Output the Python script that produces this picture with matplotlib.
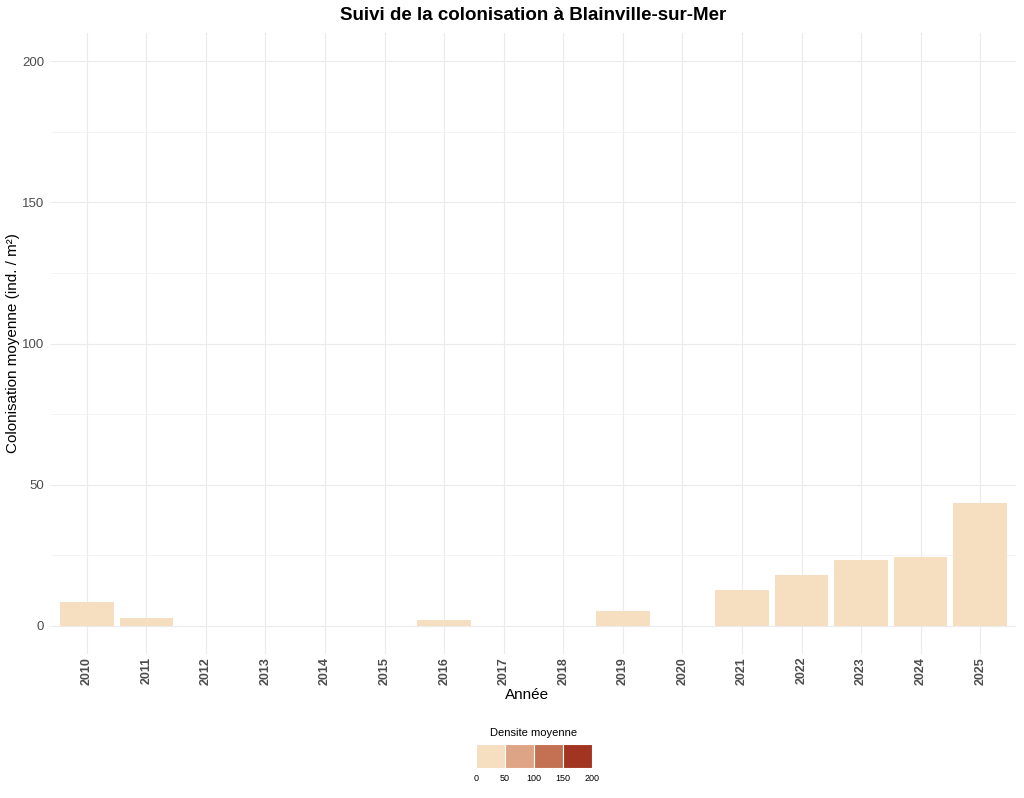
import matplotlib
matplotlib.use("Agg")
import matplotlib.pyplot as plt
from matplotlib.ticker import MultipleLocator

plt.rcParams["font.family"] = ["Liberation Sans", "DejaVu Sans"]

years = [str(y) for y in range(2010, 2026)]
values = [8.5, 2.6, 0, 0, 0, 0, 2.1, 0, 0, 5.2, 0, 12.5, 18.0, 23.4, 24.4, 43.4]
legend_breaks = [0, 50, 100, 150, 200]
legend_colors = ["#F5DFC0", "#DEA486", "#C37152", "#A23422"]
bar_color = "#F5DFC0"

W, H = 1024, 798
fig = plt.figure(figsize=(W / 100, H / 100), dpi=100)
fig.patch.set_facecolor("white")

left, right, top, bottom = 51, 1016, 33, 654
ax = fig.add_axes([left / W, 1 - bottom / H, (right - left) / W, (bottom - top) / H])
x = list(range(len(years)))
ax.bar(x, values, width=0.9, color=bar_color, zorder=2)
ax.set_xlim(-0.6, len(years) - 0.4)
ax.set_ylim(-10, 210)
ax.set_xticks(x)
ax.set_xticklabels(years, rotation=90, fontweight="bold", color="#4D4D4D", fontsize=9)
ax.yaxis.set_minor_locator(MultipleLocator(25))
ax.set_yticks([0, 50, 100, 150, 200])
ax.tick_params(axis="y", colors="#4D4D4D", labelsize=9.5, length=0, which="both", pad=5)
ax.tick_params(axis="x", length=0, pad=2)
ax.grid(True, which="major", color="#EBEBEB", linewidth=0.8, zorder=0)
ax.grid(True, which="minor", axis="y", color="#F2F2F2", linewidth=0.6, zorder=0)
for s in ax.spines.values():
    s.set_visible(False)

fig.text(527 / W, 1 - 695 / H, "Année", ha="center", va="center", fontsize=11)
fig.text(13 / W, 1 - 343 / H, "Colonisation moyenne (ind. / m²)", ha="center", va="center",
         rotation=90, fontsize=11)
fig.text(533 / W, 1 - 16 / H, "Suivi de la colonisation à Blainville-sur-Mer",
         ha="center", va="center", fontsize=13.5, fontweight="bold")

lax = fig.add_axes([476 / W, 1 - 768 / H, 116 / W, 24 / H])
for i, c in enumerate(legend_colors):
    lax.bar(legend_breaks[i], 1, width=legend_breaks[i + 1] - legend_breaks[i], align="edge",
            color=c, edgecolor="white", linewidth=0.8)
lax.set_xlim(legend_breaks[0], legend_breaks[-1])
lax.set_ylim(0, 1)
lax.set_yticks([])
lax.set_xticks(legend_breaks)
lax.set_xticklabels([str(b) for b in legend_breaks], fontsize=6.5, color="black")
lax.tick_params(axis="x", length=0, pad=4)
for s in lax.spines.values():
    s.set_visible(False)
fig.text(534 / W, 1 - 733 / H, "Densite moyenne", ha="center", va="center", fontsize=8)

fig.savefig("out.png", dpi=100)
